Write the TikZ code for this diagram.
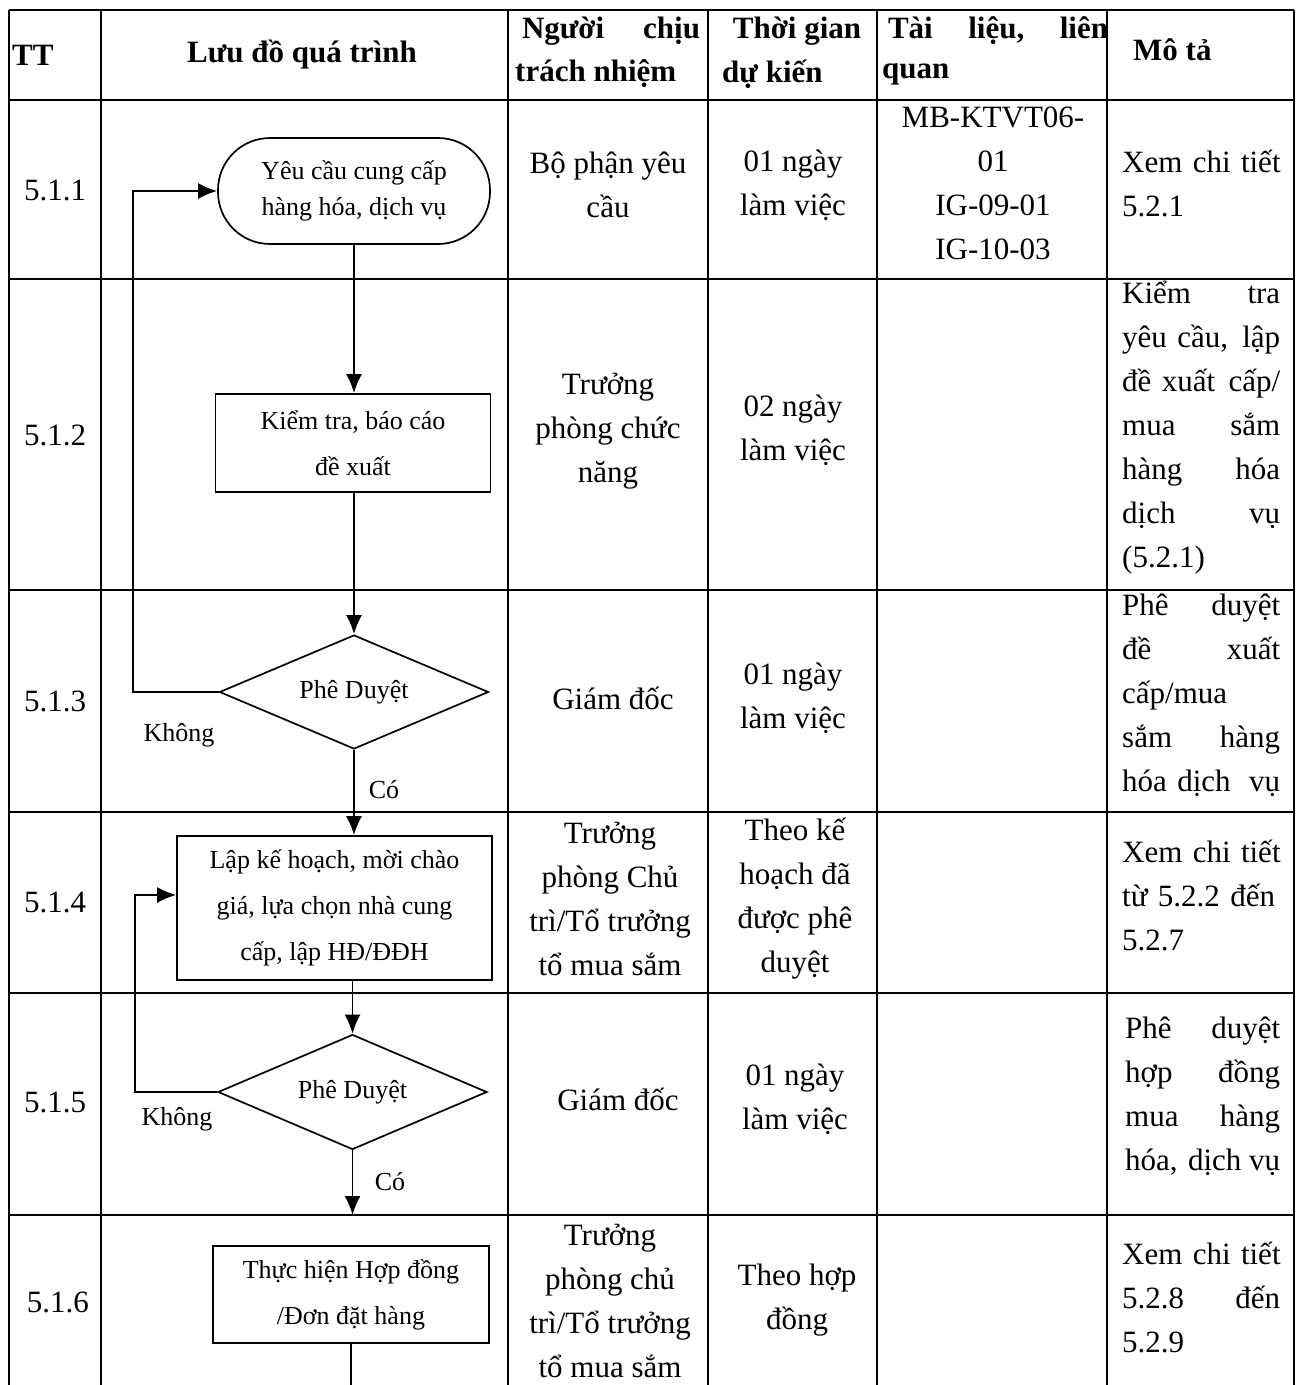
\documentclass[tikz,border=0pt]{standalone}
\usepackage{fontspec}
\setmainfont{Liberation Serif}
\usetikzlibrary{arrows.meta,shapes.geometric}
\newcommand{\jl}[3][158pt]{\makebox[#1][l]{#2\hfill#3}}
\begin{document}
\begin{tikzpicture}[x=1pt,y=-1pt,
  grid/.style={line width=1.9pt},
  cell/.style={font=\fontsize{31}{44}\selectfont, align=center, inner sep=0pt},
  desc/.style={font=\fontsize{31}{44}\selectfont, align=left, text width=178pt, inner sep=0pt, anchor=west},
  hdr/.style={font=\bfseries\fontsize{31}{43}\selectfont, inner sep=0pt},
  flow/.style={font=\fontsize{26}{46}\selectfont, align=center, inner sep=0pt},
  procbox/.style={flow, draw, line width=1.7pt},
  termbox/.style={flow, draw, line width=1.7pt, rounded corners=52pt, font=\fontsize{26}{36}\selectfont},
  decision/.style={flow, draw, line width=1.7pt, diamond, aspect=2.36},
  lbl/.style={font=\fontsize{26}{30}\selectfont, inner sep=0pt},
  conn/.style={line width=1.9pt},
  arr/.style={conn, -{Latex[length=19pt,width=16pt]}},
]
\useasboundingbox (0,0) rectangle (1304,1385);
\fill[white] (0,0) rectangle (1304,1385);

% ---------- table grid ----------
\foreach \x in {9,101,508,708,877,1107,1294}
  \draw[grid] (\x,10) -- (\x,1385);
\foreach \y in {10,100,279,590,812,993,1215}
  \draw[grid] (9,\y) -- (1294,\y);

% ---------- header ----------
\node[hdr, anchor=west] (hTT) at (12,55) {TT};
\node[hdr] (hLD) at (302,55) {Lưu đồ quá trình};
\node[hdr] (hNa) at (611,31) {\jl[178pt]{Người}{chịu}};
\node[hdr, anchor=west] (hNb) at (515,74) {trách nhiệm};
\node[hdr] (hTa) at (797,31) {Thời gian};
\node[hdr, anchor=west] (hTb) at (722,74) {dự kiến};
\node[hdr] (hLa) at (998,31) {\makebox[220pt][l]{Tài\hfill liệu,\hfill liên}};
\node[hdr, anchor=west] (hLb) at (882,74) {quan};
\node[hdr, anchor=west] (hMT) at (1133,50) {Mô tả};

% ---------- TT column ----------
\node[cell] (tt1) at (55,190) {5.1.1};
\node[cell] (tt2) at (55,435) {5.1.2};
\node[cell] (tt3) at (55,701) {5.1.3};
\node[cell] (tt4) at (55,902) {5.1.4};
\node[cell] (tt5) at (55,1102) {5.1.5};
\node[cell] (tt6) at (58,1302) {5.1.6};

% ---------- responsible ----------
\node[cell] (n1) at (608,185) {Bộ phận yêu\\cầu};
\node[cell] (n2) at (608,431) {Trưởng\\phòng chức\\năng};
\node[cell] (n3) at (613,698) {Giám đốc};
\node[cell] (n4) at (610,899) {Trưởng\\phòng Chủ\\trì/Tổ trưởng\\tổ mua sắm};
\node[cell] (n5) at (618,1099) {Giám đốc};
\node[cell] (n6) at (610,1301) {Trưởng\\phòng chủ\\trì/Tổ trưởng\\tổ mua sắm};

% ---------- time ----------
\node[cell] (g1) at (793,185) {01 ngày\\làm việc};
\node[cell] (g2) at (793,430) {02 ngày\\làm việc};
\node[cell] (g3) at (793,698) {01 ngày\\làm việc};
\node[cell] (g4) at (795,899) {Theo kế\\hoạch đã\\được phê\\duyệt};
\node[cell] (g5) at (795,1099) {01 ngày\\làm việc};
\node[cell] (g6) at (797,1300) {Theo hợp\\đồng};

% ---------- documents ----------
\node[cell] (d01) at (993,183) {MB-KTVT06-\\01\\IG-09-01\\IG-10-03};

% ---------- description ----------
\node[desc] (m1) at (1122,183) {Xem chi tiết\\5.2.1};
\node[desc] (m2) at (1122,428) {\jl{Kiểm}{tra}\\\jl{yêu cầu,}{lập}\\\jl{đề xuất}{cấp/}\\\jl{mua}{sắm}\\\jl{hàng}{hóa}\\\jl{dịch}{vụ}\\(5.2.1)};
\node[desc] (m3) at (1122,695) {\jl{Phê}{duyệt}\\\jl{đề}{xuất}\\cấp/mua\\\jl{sắm}{hàng}\\\jl{hóa dịch}{vụ}};
\node[desc] (m4) at (1122,895) {Xem chi tiết\\từ 5.2.2 đến\\5.2.7};
\node[desc] (m5) at (1125,1096) {\jl[155pt]{Phê}{duyệt}\\\jl[155pt]{hợp}{đồng}\\\jl[155pt]{mua}{hàng}\\\jl[155pt]{hóa, dịch}{vụ}};
\node[desc] (m6) at (1122,1297) {Xem chi tiết\\\jl{5.2.8}{đến}\\5.2.9};

% ---------- flowchart ----------
\node[termbox, minimum width=272pt, minimum height=106pt] (t1) at (354,191) {Yêu cầu cung cấp\\hàng hóa, dịch vụ};
\node[procbox, minimum width=275pt, minimum height=98pt] (b1) at (353,443) {Kiểm tra, báo cáo\\đề xuất};
\node[decision, minimum width=269pt, minimum height=114pt] (d1) at (354,692) {Phê Duyệt};
\node[procbox, minimum width=315pt, minimum height=144pt] (b2) at (334.5,908) {Lập kế hoạch, mời chào\\giá, lựa chọn nhà cung\\cấp, lập HĐ/ĐĐH};
\node[decision, minimum width=269pt, minimum height=115pt] (d2) at (352.5,1092) {Phê Duyệt};
\node[procbox, minimum width=276pt, minimum height=97pt] (b3) at (351,1294.5) {Thực hiện Hợp đồng\\/Đơn đặt hàng};

\node[lbl] (no1) at (179,735) {Không};
\node[lbl] (yes1) at (384,790) {Có};
\node[lbl] (no2) at (177,1119) {Không};
\node[lbl] (yes2) at (390,1182) {Có};

\coordinate (k1) at (133,191);
\coordinate (k2) at (135,895);
\coordinate (e2) at (353,1215);
\coordinate (e3) at (349,1385);

\draw[arr] (t1.south) -- (t1.south |- b1.north);
\draw[arr] (b1.south -| d1.north) -- (d1.north);
\draw[arr] (d1.west) -| (k1) -- (t1.west);
\draw[arr] (d1.south) -- (d1.south |- b2.north);
\draw[arr] (d2.north |- b2.south) -- (d2.north);
\draw[arr] (d2.west) -| (k2) -- (k2 -| b2.west);
\draw[arr] (d2.south) -- (d2.south |- e2);
\draw[conn] (b3.south) -- (b3.south |- e3);
\end{tikzpicture}
\end{document}
